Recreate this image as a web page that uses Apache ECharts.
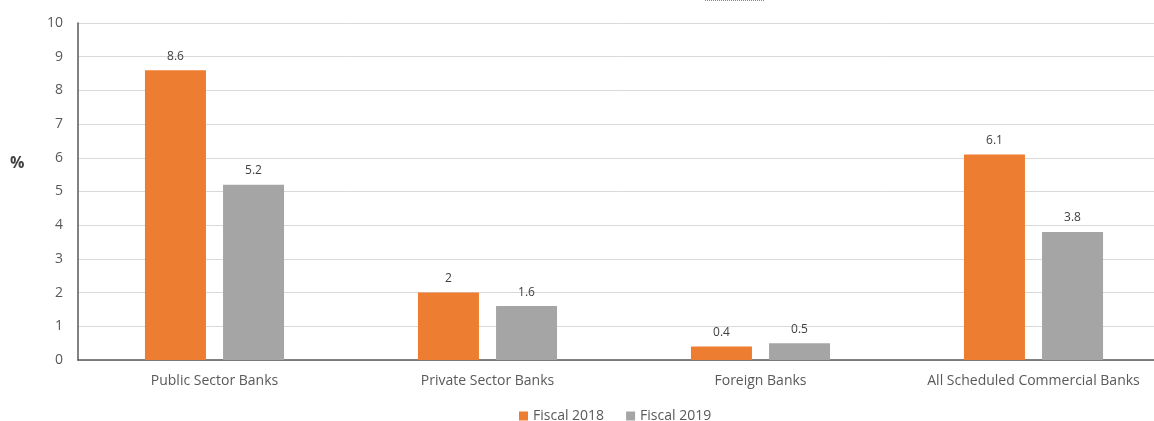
<!DOCTYPE html>
<html><head><meta charset="utf-8">
<script src="https://cdn.jsdelivr.net/npm/echarts@6/dist/echarts.min.js"></script>
<style>html,body{margin:0;padding:0;background:#fff}#c{width:1154px;height:421px}</style>
</head><body><div id="c"></div>
<script>
const categories = ['Public Sector Banks','Private Sector Banks','Foreign Banks','All Scheduled Commercial Banks'];
const fiscal2018 = [8.6, 2, 0.4, 6.1];
const fiscal2019 = [5.2, 1.6, 0.5, 3.8];
const seriesNames = ['Fiscal 2018','Fiscal 2019'];
const FONT = '"Open Sans", "Noto Sans", sans-serif';
const chart = echarts.init(document.getElementById('c'), null, {renderer:'canvas'});
chart.setOption({
  animation:false,
  textStyle:{fontFamily:FONT},
  grid:{left:78, width:1092, top:23, height:337, containLabel:false, outerBoundsMode:'none'},
  legend:{
    data:seriesNames, left:514, top:404, itemWidth:9, itemHeight:9, itemGap:22,
    icon:'rect', textStyle:{color:'#595959', fontSize:14, fontFamily:FONT}
  },
  graphic:[
    {type:'text', left:10, top:155, style:{text:'%', fill:'#404040', font:'bold 16px '+FONT}},
    {type:'line', shape:{x1:705,y1:0.5,x2:765,y2:0.5}, style:{stroke:'#ff5555', lineWidth:1, lineDash:[1,1]}}
  ],
  xAxis:{
    type:'category', data:categories,
    axisLine:{lineStyle:{color:'#595959', width:1.5}},
    axisTick:{show:false},
    axisLabel:{color:'#595959', fontSize:14, margin:14, fontFamily:FONT, interval:0}
  },
  yAxis:{
    type:'value', min:0, max:10, interval:1,
    axisLine:{show:true, lineStyle:{color:'#595959', width:1.5}},
    axisTick:{show:false},
    splitLine:{lineStyle:{color:'#d9d9d9'}},
    axisLabel:{color:'#595959', fontSize:14, margin:15, fontFamily:FONT}
  },
  series:[
    {name:seriesNames[0], type:'bar', data:fiscal2018, barWidth:61, barGap:'28%',
     itemStyle:{color:'#ED7D31'},
     label:{show:true, position:'top', distance:8, color:'#404040', fontSize:12, fontFamily:FONT}},
    {name:seriesNames[1], type:'bar', data:fiscal2019, barWidth:61, barGap:'28%',
     itemStyle:{color:'#A5A5A5'},
     label:{show:true, position:'top', distance:8, color:'#404040', fontSize:12, fontFamily:FONT}}
  ]
});
</script></body></html>
